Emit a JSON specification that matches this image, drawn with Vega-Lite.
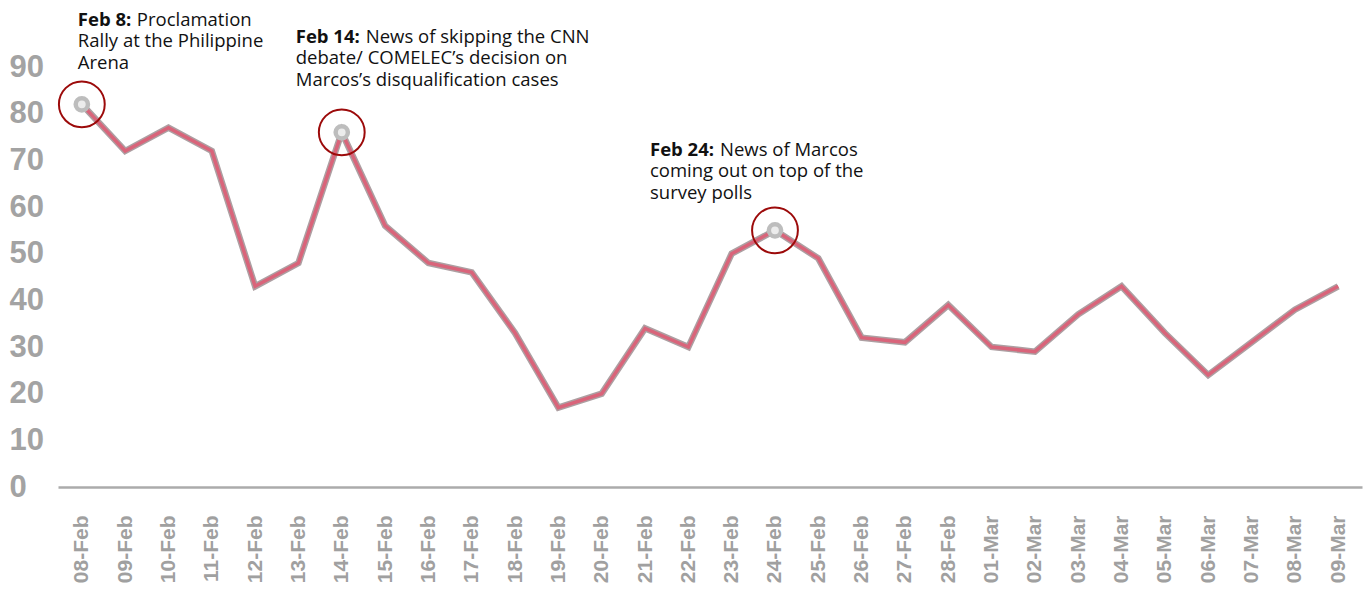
{
  "$schema": "https://vega.github.io/schema/vega-lite/v6.json",
  "width": 1304,
  "height": 420,
  "autosize": {"type": "none"},
  "padding": {"left": 58, "top": 67, "right": 7, "bottom": 107},
  "background": "white",
  "config": {"view": {"stroke": null}},
  "datasets": {
    "series": [
      {"date": "08-Feb", "value": 82}, {"date": "09-Feb", "value": 72}, {"date": "10-Feb", "value": 77},
      {"date": "11-Feb", "value": 72}, {"date": "12-Feb", "value": 43}, {"date": "13-Feb", "value": 48},
      {"date": "14-Feb", "value": 76}, {"date": "15-Feb", "value": 56}, {"date": "16-Feb", "value": 48},
      {"date": "17-Feb", "value": 46}, {"date": "18-Feb", "value": 33}, {"date": "19-Feb", "value": 17},
      {"date": "20-Feb", "value": 20}, {"date": "21-Feb", "value": 34}, {"date": "22-Feb", "value": 30},
      {"date": "23-Feb", "value": 50}, {"date": "24-Feb", "value": 55}, {"date": "25-Feb", "value": 49},
      {"date": "26-Feb", "value": 32}, {"date": "27-Feb", "value": 31}, {"date": "28-Feb", "value": 39},
      {"date": "01-Mar", "value": 30}, {"date": "02-Mar", "value": 29}, {"date": "03-Mar", "value": 37},
      {"date": "04-Mar", "value": 43}, {"date": "05-Mar", "value": 33}, {"date": "06-Mar", "value": 24},
      {"date": "07-Mar", "value": 31}, {"date": "08-Mar", "value": 38}, {"date": "09-Mar", "value": 43}
    ],
    "events": [
      {"date": "08-Feb", "value": 82, "title": "Feb 8:", "first": "Proclamation", "rest": "Rally at the Philippine\nArena"},
      {"date": "14-Feb", "value": 76, "title": "Feb 14:", "first": "News of skipping the CNN", "rest": "debate/ COMELEC’s decision on\nMarcos’s disqualification cases"},
      {"date": "24-Feb", "value": 55, "title": "Feb 24:", "first": "News of Marcos", "rest": "coming out on top of the\nsurvey polls"}
    ]
  },
  "encoding": {
    "x": {
      "field": "date", "type": "ordinal", "sort": null,
      "scale": {"type": "point", "padding": 0.55},
      "axis": {
        "title": null, "labelAngle": -90, "labelPadding": 28, "ticks": false,
        "labelFont": "Liberation Sans", "labelFontSize": 21, "labelFontWeight": "bold", "labelColor": "#a0a0a0",
        "domainColor": "#ababab", "domainWidth": 2.5, "grid": false
      }
    },
    "y": {
      "field": "value", "type": "quantitative",
      "scale": {"domain": [0, 90], "nice": false, "zero": true},
      "axis": {
        "title": null, "values": [0, 10, 20, 30, 40, 50, 60, 70, 80, 90], "ticks": false, "domain": false, "grid": false,
        "labelPadding": 49, "labelAlign": "left", "labelFont": "Liberation Sans", "labelFontSize": 31, "labelFontWeight": "bold", "labelColor": "#a3a3a3"
      }
    }
  },
  "layer": [
    {"data": {"name": "series"}, "mark": {"type": "line", "color": "#ad9fa2", "strokeWidth": 6.5, "strokeJoin": "miter"}},
    {"data": {"name": "series"}, "mark": {"type": "line", "color": "#d9647a", "strokeWidth": 3.5, "strokeJoin": "miter"}},
    {"data": {"name": "events"}, "mark": {"type": "point", "shape": "circle", "filled": false, "stroke": "#bdbdbd", "fill": "#ececec", "fillOpacity": 1, "strokeWidth": 4.5, "size": 150, "opacity": 1}},
    {"data": {"name": "events"}, "mark": {"type": "point", "shape": "circle", "filled": false, "stroke": "#9c0a0a", "strokeWidth": 2, "size": 2100, "opacity": 1}},

    {"data": {"name": "events"}, "transform": [{"filter": "datum.date == '08-Feb'"}],
     "mark": {"type": "text", "font": "Open Sans", "fontSize": 18.5, "fontWeight": "bold", "color": "#111", "align": "left", "baseline": "alphabetic", "dx": -4, "dy": -78},
     "encoding": {"text": {"field": "title"}}},
    {"data": {"name": "events"}, "transform": [{"filter": "datum.date == '08-Feb'"}],
     "mark": {"type": "text", "font": "Open Sans", "fontSize": 18.5, "color": "#111", "align": "left", "baseline": "alphabetic", "dx": 55, "dy": -78},
     "encoding": {"text": {"field": "first"}}},
    {"data": {"name": "events"}, "transform": [{"filter": "datum.date == '08-Feb'"}],
     "mark": {"type": "text", "font": "Open Sans", "fontSize": 18.5, "color": "#111", "align": "left", "baseline": "alphabetic", "lineBreak": "\n", "lineHeight": 22, "dx": -4, "dy": -57},
     "encoding": {"text": {"field": "rest"}}},

    {"data": {"name": "events"}, "transform": [{"filter": "datum.date == '14-Feb'"}],
     "mark": {"type": "text", "font": "Open Sans", "fontSize": 18.5, "fontWeight": "bold", "color": "#111", "align": "left", "baseline": "alphabetic", "dx": -46, "dy": -89},
     "encoding": {"text": {"field": "title"}}},
    {"data": {"name": "events"}, "transform": [{"filter": "datum.date == '14-Feb'"}],
     "mark": {"type": "text", "font": "Open Sans", "fontSize": 18.5, "color": "#111", "align": "left", "baseline": "alphabetic", "dx": 24, "dy": -89},
     "encoding": {"text": {"field": "first"}}},
    {"data": {"name": "events"}, "transform": [{"filter": "datum.date == '14-Feb'"}],
     "mark": {"type": "text", "font": "Open Sans", "fontSize": 18.5, "color": "#111", "align": "left", "baseline": "alphabetic", "lineBreak": "\n", "lineHeight": 22, "dx": -46, "dy": -68},
     "encoding": {"text": {"field": "rest"}}},

    {"data": {"name": "events"}, "transform": [{"filter": "datum.date == '24-Feb'"}],
     "mark": {"type": "text", "font": "Open Sans", "fontSize": 18.5, "fontWeight": "bold", "color": "#111", "align": "left", "baseline": "alphabetic", "dx": -125, "dy": -74},
     "encoding": {"text": {"field": "title"}}},
    {"data": {"name": "events"}, "transform": [{"filter": "datum.date == '24-Feb'"}],
     "mark": {"type": "text", "font": "Open Sans", "fontSize": 18.5, "color": "#111", "align": "left", "baseline": "alphabetic", "dx": -55, "dy": -74},
     "encoding": {"text": {"field": "first"}}},
    {"data": {"name": "events"}, "transform": [{"filter": "datum.date == '24-Feb'"}],
     "mark": {"type": "text", "font": "Open Sans", "fontSize": 18.5, "color": "#111", "align": "left", "baseline": "alphabetic", "lineBreak": "\n", "lineHeight": 22, "dx": -125, "dy": -53},
     "encoding": {"text": {"field": "rest"}}}
  ]
}
